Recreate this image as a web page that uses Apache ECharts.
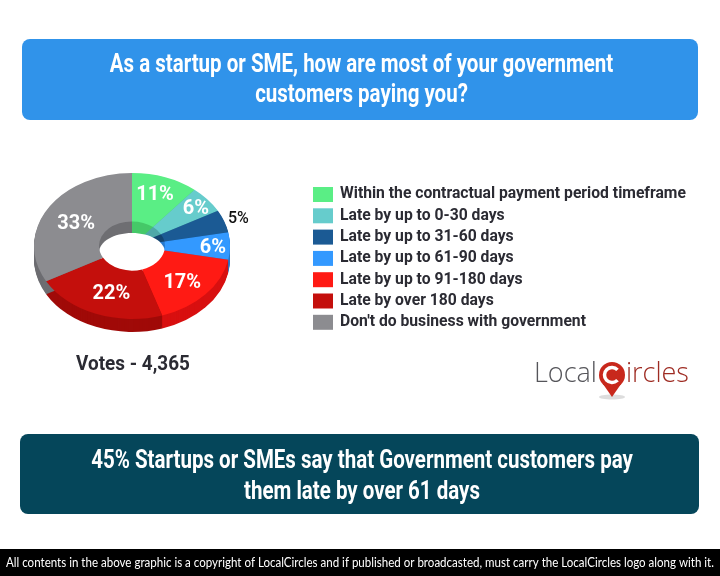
<!DOCTYPE html>
<html><head><meta charset="utf-8">
<style>html,body{margin:0;padding:0;background:#fff}#c{width:720px;height:576px}</style>
<script src="https://cdn.jsdelivr.net/npm/echarts@6/dist/echarts.min.js"></script></head>
<body><div id="c"></div>
<script>
var categories = ["Within the contractual payment period timeframe","Late by up to 0-30 days","Late by up to 31-60 days","Late by up to 61-90 days","Late by up to 91-180 days","Late by over 180 days","Don't do business with government"];
var values = [11,6,5,6,17,22,33];
var topColors = ["#5AEE85","#66CCCC","#1B5A94","#3399FF","#FF1A14","#C40F0C","#8C8C90"];
var sideColors = ["#45C868","#4FA8A8","#134470","#2678CC","#D81010","#A00A08","#6E6E72"];
var labelColors = ["#fff","#fff","#111","#fff","#fff","#fff","#fff"];
var headline = "As a startup or SME, how are most of your government\ncustomers paying you?";
var takeaway = "45% Startups or SMEs say that Government customers pay\nthem late by over 61 days";
var votes = "Votes - 4,365";
var footer = "All contents in the above graphic is a copyright of LocalCircles and if published or broadcasted, must carry the LocalCircles logo along with it.";
var total = values.reduce(function(a,b){return a+b},0);
var CX=132,CY=246,RX=98,RY=73,DEPTH=13,HX=33,HY=25;
var K=RY/RX, HR=HX;
var labelR=[68,83,113,81,67,56,65], lblDy=[-3,2,2,2,4,9,3];
function angles(i,v){var s=0;for(var k=0;k<i;k++)s+=values[k];var t=-Math.PI/2;return [t+s/total*2*Math.PI,t+(s+v)/total*2*Math.PI];}
function ell(children,dy){return {type:'group',x:CX,y:CY+dy,scaleX:1,scaleY:K,children:children};}
function sideItem(i){return function(p,api){var a=angles(i,api.value(0)),kids=[];
  for(var d=DEPTH;d>=1;d--)kids.push(ell([{type:'sector',shape:{cx:0,cy:0,r:RX,r0:0,startAngle:a[0],endAngle:a[1]},style:{fill:sideColors[i]}}],d));
  kids.push(ell([{type:'sector',shape:{cx:0,cy:0,r:HR,r0:0,startAngle:a[0],endAngle:a[1]},style:{fill:sideColors[i]}}],0));
  return {type:'group',children:kids};};}
function topItem(i){return function(p,api){var v=api.value(0),a=angles(i,v),m=(a[0]+a[1])/2;
  var lr=labelR[i];
  return {type:'group',children:[
   ell([{type:'sector',shape:{cx:0,cy:0,r:RX,r0:HR,startAngle:a[0],endAngle:a[1]},style:{fill:topColors[i]}}],0),
   {type:'text',x:CX+Math.cos(m)*lr,y:CY+Math.sin(m)*lr*K+lblDy[i],style:{text:v+'%',fill:labelColors[i],font:(i==2?'500 16px':'700 20px')+' Roboto',align:'center',verticalAlign:'middle'}}
  ]};};}
var series=[];
values.forEach(function(v,i){series.push({type:'custom',coordinateSystem:'none',z:1,silent:true,animation:false,data:[[v]],renderItem:sideItem(i),encode:{value:0}});});
series.push({type:'custom',coordinateSystem:'none',z:2,silent:true,animation:false,data:[[1]],renderItem:function(){return {type:'group',children:[
  {type:'ellipse',shape:{cx:CX,cy:CY+6.5,rx:HX,ry:HY-5.5},style:{fill:'#fff'}}]};}});
values.forEach(function(v,i){series.push({type:'custom',name:categories[i],coordinateSystem:'none',z:3,silent:true,animation:false,itemStyle:{color:topColors[i]},data:[[v]],renderItem:topItem(i),encode:{value:0}});});
var chart=echarts.init(document.getElementById('c'),null,{renderer:'canvas'});
var F='Roboto';
chart.setOption({animation:false,backgroundColor:'#fff',
 legend:{orient:'vertical',left:313,top:185,padding:0,itemWidth:20,itemHeight:15,itemGap:2.3,icon:'rect',selectedMode:false,data:categories,
   textStyle:{color:'#2b2b33',fontFamily:F,fontWeight:700,fontSize:15.7,lineHeight:19,padding:[0,0,0,2]}},
 graphic:[
  {type:'rect',z:0,shape:{x:22,y:39,width:676,height:81,r:8},style:{fill:'#3093EA'}},
  {type:'text',z:5,x:361.5,y:80.5,scaleX:0.82,style:{text:headline,fill:'#fff',font:'700 25px '+F,align:'center',verticalAlign:'middle',lineHeight:30.5}},
  {type:'rect',z:0,shape:{x:20,y:434,width:679,height:80,r:8},style:{fill:'#05465A'}},
  {type:'text',z:5,x:362,y:477.5,scaleX:0.82,style:{text:takeaway,fill:'#fff',font:'700 25px '+F,align:'center',verticalAlign:'middle',lineHeight:31}},
  {type:'text',z:5,x:133,y:365,scaleX:0.9,style:{text:votes,fill:'#2b2b33',font:'700 21px '+F,align:'center',verticalAlign:'middle'}},
  {type:'rect',z:0,shape:{x:0,y:549,width:720,height:27},style:{fill:'#000'}},
  {type:'text',z:5,x:360,y:563,scaleX:0.855,style:{text:footer,fill:'#fff',font:'400 13.5px Lato',align:'center',verticalAlign:'middle'}},
  {type:'text',z:5,x:534,y:374,style:{text:'Local',fill:'#55555a',font:'300 27px "Open Sans"',verticalAlign:'middle'}},
  {type:'text',z:5,x:626,y:374,style:{text:'ircles',fill:'#9e2b22',font:'300 27px "Open Sans"',verticalAlign:'middle'}},
  {type:'ellipse',z:4,shape:{cx:612,cy:397,rx:13,ry:2.5},style:{fill:'#ddd'}},
  {type:'polygon',z:5,shape:{points:[[603,384],[621,384],[612,397]]},style:{fill:'#C8281C'}},
  {type:'circle',z:5,shape:{cx:612,cy:375,r:13},style:{fill:'#C8281C'}},
  {type:'arc',z:6,shape:{cx:612,cy:375,r:7.5,startAngle:-0.75,endAngle:0.75,clockwise:false},style:{fill:null,stroke:'#fff',lineWidth:3.5}}
 ],
 series:series});
</script></body></html>
